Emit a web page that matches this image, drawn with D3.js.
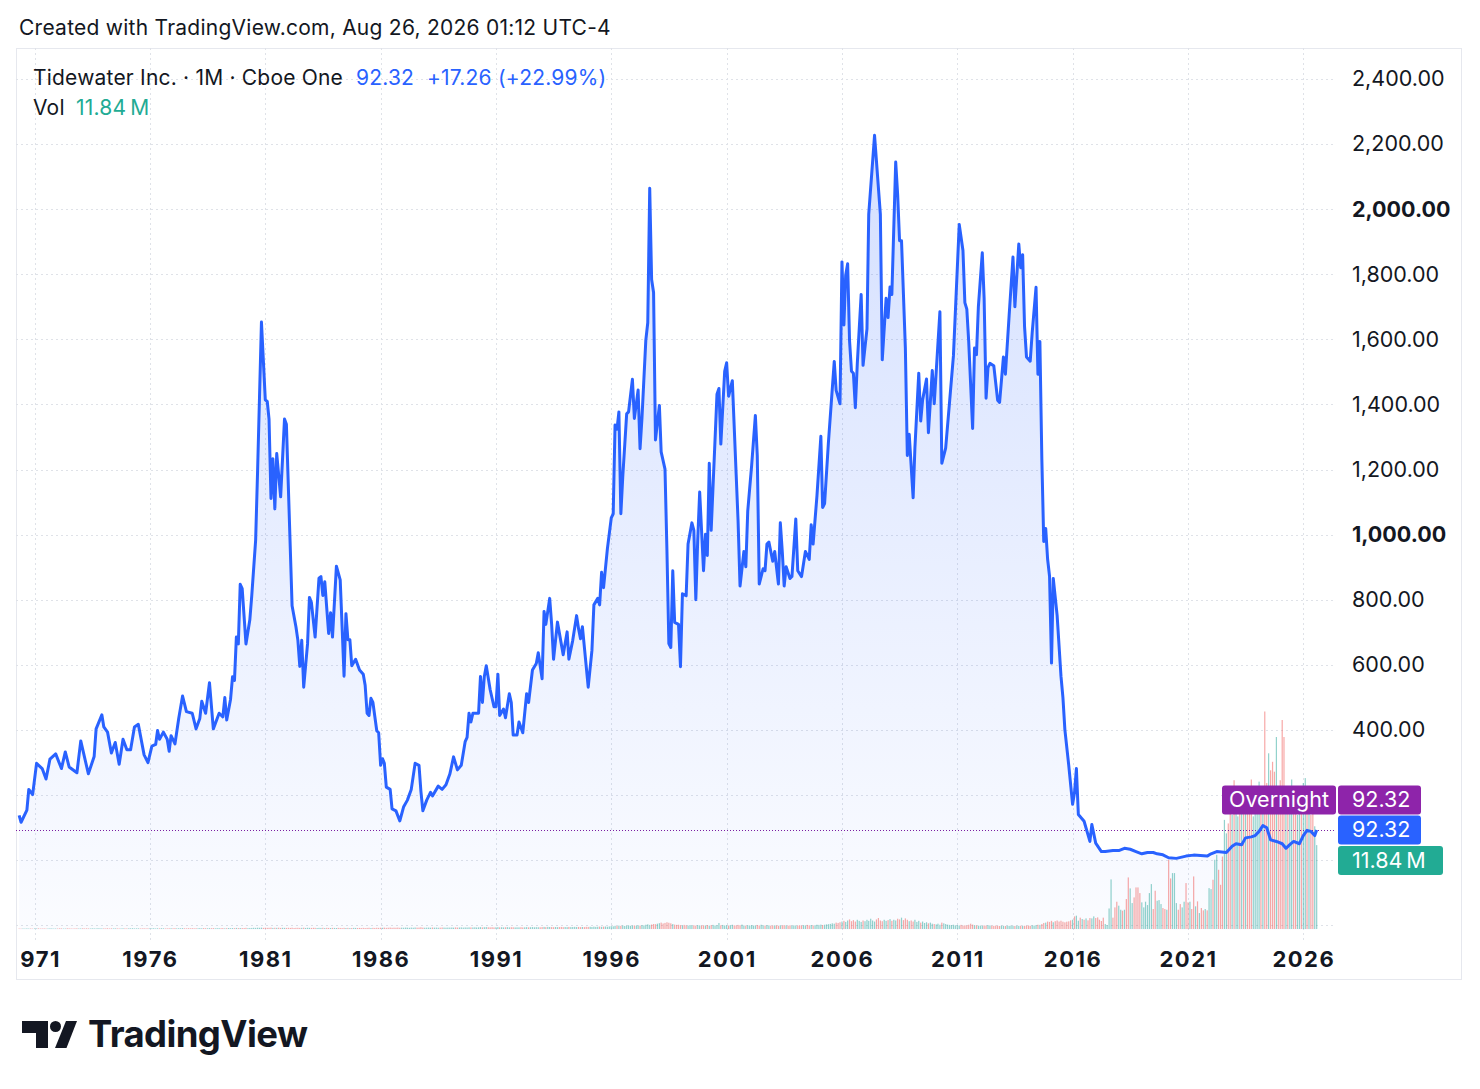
<!DOCTYPE html>
<html>
<head>
<meta charset="utf-8">
<script src="https://cdn.jsdelivr.net/npm/d3@7"></script>
<style>
  body { margin: 0; background: #fff; }
  svg text { font-family: Inter, "Noto Sans", sans-serif; }
</style>
</head>
<body>
<script>
// monthly closes at the turning points
const closes1970s = [
  ["1970-05",137],["1970-06",116],["1970-09",153],["1970-10",217],["1970-12",201],
  ["1971-02",297],["1971-05",281],["1971-07",249],["1971-09",310],["1971-12",326],
  ["1972-03",281],["1972-05",332],["1972-07",286],["1972-11",268],
  ["1973-01",366],["1973-05",265],["1973-08",318],["1973-09",403],["1973-12",446],
  ["1974-01",409],["1974-03",393],["1974-05",329],["1974-07",361],["1974-09",294],["1974-11",371],
  ["1975-01",339],["1975-03",339],["1975-05",409],["1975-07",417],["1975-10",323],["1975-12",299],
  ["1976-02",350],["1976-04",355],["1976-05",398],["1976-06",371],["1976-08",393],["1976-10",371],["1976-11",334],["1976-12",382],
  ["1977-02",357],["1977-04",435],["1977-06",504],["1977-08",456],["1977-11",451],
  ["1978-01",403],["1978-03",435],["1978-04",488],["1978-06",451],["1978-08",545],["1978-10",403],
  ["1979-01",451],["1979-03",440],["1979-04",499],["1979-05",430],["1979-07",494],["1979-08",563],["1979-09",552],["1979-10",685],["1979-11",664],["1979-12",847]
];
const closes1980s = [
  ["1980-01",834],["1980-03",664],["1980-05",738],["1980-06",813],["1980-08",983],["1980-09",1196],["1980-11",1653],
  ["1981-01",1414],["1981-02",1409],["1981-03",1355],["1981-04",1111],["1981-05",1233],["1981-06",1079],["1981-07",1249],["1981-09",1116],["1981-11",1355],["1981-12",1339],
  ["1982-03",781],["1982-05",717],["1982-06",675],["1982-07",595],["1982-08",675],["1982-09",531],["1982-11",664],["1982-12",807],
  ["1983-01",791],["1983-03",685],["1983-05",866],["1983-06",871],["1983-07",813],["1983-08",855],["1983-10",696],["1983-11",760],["1983-12",685],
  ["1984-02",903],["1984-04",861],["1984-05",717],["1984-06",565],["1984-07",757],["1984-08",677],["1984-09",677],["1984-10",597],["1984-12",617],
  ["1985-02",584],["1985-04",571],["1985-05",537],["1985-06",451],["1985-07",444],["1985-08",497],["1985-09",484],["1985-11",397],["1985-12",391],
  ["1986-01",291],["1986-02",311],["1986-03",297],["1986-04",224],["1986-06",217],["1986-07",157],["1986-09",151],["1986-11",120],
  ["1987-01",164],["1987-03",184],["1987-05",217],["1987-07",297],["1987-09",291],["1987-10",211],["1987-11",151],
  ["1988-01",184],["1988-03",208],["1988-04",197],["1988-07",227],["1988-09",217],["1988-11",231],
  ["1989-01",264],["1989-03",317],["1989-05",277],["1989-07",291],["1989-09",364],["1989-10",377],["1989-11",451],["1989-12",424]
];
const closes1990s = [
  ["1990-01",451],["1990-04",451],["1990-05",564],["1990-06",484],["1990-07",564],["1990-08",597],["1990-10",524],["1990-12",471],
  ["1991-01",471],["1991-02",571],["1991-03",444],["1991-05",464],["1991-06",437],["1991-08",511],["1991-09",484],["1991-10",384],["1991-12",384],
  ["1992-01",424],["1992-03",391],["1992-05",511],["1992-06",484],["1992-08",584],["1992-10",604],["1992-11",637],
  ["1993-01",557],["1993-02",764],["1993-03",724],["1993-05",804],["1993-06",724],["1993-07",617],["1993-09",731],["1993-12",631],
  ["1994-02",701],["1994-03",617],["1994-05",675],["1994-07",751],["1994-08",711],["1994-09",680],["1994-10",717],
  ["1995-01",531],["1995-03",644],["1995-04",784],["1995-06",804],["1995-07",784],["1995-08",884],["1995-09",837],["1995-11",957],
  ["1996-01",1051],["1996-02",1064],["1996-03",1337],["1996-04",1324],["1996-05",1377],["1996-06",1064],["1996-07",1177],["1996-09",1371],["1996-10",1377],["1996-12",1477],
  ["1997-01",1357],["1997-03",1444],["1997-04",1264],["1997-05",1357],["1997-07",1597],["1997-08",1651],["1997-09",2064],["1997-10",1784],["1997-11",1744],["1997-12",1291],
  ["1998-02",1397],["1998-03",1254],["1998-05",1201],["1998-06",948],["1998-07",665],["1998-08",653],["1998-09",889],["1998-10",730],["1998-12",724],
  ["1999-01",594],["1999-02",818],["1999-04",812],["1999-05",971],["1999-07",1036],["1999-08",1013],["1999-09",800],["1999-10",983],["1999-11",1131]
];
const closes2000s = [
  ["2000-01",889],["2000-02",1001],["2000-03",936],["2000-04",1219],["2000-05",1013],["2000-08",1431],["2000-09",1449],["2000-10",1278],["2000-12",1502],
  ["2001-01",1528],["2001-02",1425],["2001-04",1473],["2001-06",1184],["2001-07",1042],["2001-08",842],["2001-10",948],["2001-11",901],["2001-12",1072],
  ["2002-02",1213],["2002-04",1366],["2002-05",1243],["2002-06",848],["2002-08",895],["2002-09",889],["2002-10",971],["2002-11",977],
  ["2003-01",918],["2003-02",948],["2003-04",848],["2003-05",1036],["2003-06",948],["2003-07",842],["2003-08",901],["2003-10",865],["2003-11",871],
  ["2004-01",1048],["2004-02",889],["2004-04",871],["2004-06",948],["2004-08",924],["2004-09",1030],["2004-10",971],["2004-12",1119],
  ["2005-02",1302],["2005-03",1083],["2005-04",1095],["2005-06",1284],["2005-09",1532],["2005-10",1443],["2005-12",1402],
  ["2006-01",1838],["2006-02",1644],["2006-03",1797],["2006-04",1832],["2006-05",1596],["2006-06",1502],["2006-07",1496],["2006-08",1390],["2006-09",1526],["2006-11",1738],["2006-12",1520],
  ["2007-02",1632],["2007-03",1985],["2007-06",2227],["2007-09",1985],["2007-10",1537],["2007-12",1726],
  ["2008-01",1667],["2008-02",1761],["2008-03",1738],["2008-05",2145],["2008-06",2044],["2008-07",1903],["2008-08",1903],["2008-10",1573],["2008-11",1243],["2008-12",1308],
  ["2009-02",1113],["2009-03",1266],["2009-05",1496],["2009-06",1349],["2009-07",1414],["2009-09",1478],["2009-10",1313],["2009-12",1504]
];
const closes2010s = [
  ["2010-01",1402],["2010-04",1685],["2010-05",1219],["2010-07",1266],["2010-09",1408],["2010-11",1549],
  ["2011-02",1953],["2011-04",1873],["2011-05",1713],["2011-06",1693],["2011-07",1593],["2011-09",1326],["2011-10",1573],["2011-11",1553],["2011-12",1700],
  ["2012-02",1866],["2012-03",1726],["2012-04",1419],["2012-05",1513],["2012-06",1526],["2012-08",1519],["2012-10",1413],["2012-11",1406],
  ["2013-01",1546],["2013-02",1493],["2013-04",1673],["2013-06",1853],["2013-07",1700],["2013-09",1893],["2013-10",1820],["2013-11",1860],["2013-12",1640],
  ["2014-01",1546],["2014-03",1533],["2014-04",1620],["2014-06",1760],["2014-07",1493],["2014-08",1593],["2014-09",1232],["2014-10",979],["2014-11",1019],["2014-12",925],
  ["2015-01",872],["2015-02",605],["2015-03",865],["2015-05",752],["2015-07",565],["2015-08",499],["2015-09",400],["2015-11",291],
  ["2016-01",171],["2016-02",208],["2016-03",281],["2016-04",140],["2016-07",119],["2016-10",57],["2016-11",109],
  ["2017-01",52],["2017-04",26],["2017-06",26],["2017-10",29],["2018-01",29],["2018-04",36],["2018-07",33],["2018-10",26],
  ["2019-01",19],["2019-04",23],["2019-07",23],["2019-09",19],["2019-12",16]
];
const closes2020s = [
  ["2020-03",7],["2020-07",5],["2020-12",12],["2021-04",15],["2021-11",12],["2022-01",19],["2022-04",26],["2022-09",23],["2022-12",42],
  ["2023-02",50],["2023-05",47],["2023-07",68],["2023-10",71],["2023-12",75],["2024-02",88],["2024-04",106],["2024-06",99],["2024-08",62],["2024-11",57],
  ["2025-02",50],["2025-04",36],["2025-06",47],["2025-08",57],["2025-11",50],["2026-01",75],["2026-03",91],["2026-05",88],["2026-07",75.06],["2026-08",92.32]
];

// monthly volume in millions
const volume1970s = [ // from 1970-05
  0.06,0.05,0.07,0.06,0.08,0.06,0.07,0.05,
  0.08,0.07,0.09,0.06,0.07,0.08,0.06,0.07,0.09,0.08,0.06,0.07,
  0.07,0.09,0.08,0.06,0.07,0.10,0.08,0.07,0.06,0.08,0.09,0.07,
  0.08,0.10,0.07,0.09,0.08,0.07,0.10,0.09,0.08,0.11,0.09,0.08,
  0.09,0.08,0.10,0.07,0.09,0.08,0.10,0.09,0.07,0.08,0.10,0.09,
  0.08,0.10,0.09,0.11,0.08,0.09,0.10,0.08,0.09,0.10,0.08,0.09,
  0.10,0.09,0.11,0.08,0.10,0.09,0.11,0.10,0.08,0.09,0.10,0.11,
  0.10,0.12,0.09,0.11,0.10,0.12,0.10,0.09,0.11,0.10,0.12,0.10,
  0.11,0.10,0.12,0.10,0.13,0.11,0.10,0.12,0.11,0.13,0.10,0.12,
  0.12,0.11,0.13,0.10,0.12,0.14,0.11,0.13,0.12,0.15,0.13,0.14
];
const volume1980s = [
  0.14,0.13,0.16,0.12,0.14,0.15,0.17,0.16,0.18,0.17,0.19,0.16,
  0.18,0.16,0.17,0.19,0.15,0.17,0.16,0.18,0.15,0.17,0.16,0.15,
  0.17,0.15,0.18,0.14,0.16,0.17,0.15,0.16,0.18,0.15,0.17,0.16,
  0.15,0.17,0.16,0.14,0.16,0.15,0.17,0.14,0.16,0.15,0.14,0.16,
  0.15,0.14,0.16,0.15,0.13,0.16,0.14,0.15,0.13,0.14,0.16,0.15,
  0.14,0.15,0.13,0.16,0.14,0.15,0.17,0.14,0.16,0.15,0.17,0.16,
  0.18,0.17,0.19,0.16,0.18,0.20,0.17,0.19,0.18,0.20,0.17,0.19,
  0.18,0.20,0.19,0.17,0.20,0.18,0.21,0.19,0.20,0.24,0.19,0.18,
  0.19,0.20,0.18,0.21,0.19,0.20,0.18,0.19,0.21,0.20,0.19,0.20,
  0.20,0.21,0.19,0.22,0.20,0.21,0.23,0.20,0.22,0.21,0.23,0.22
];
const volume1990s = [
  0.22,0.24,0.21,0.23,0.26,0.22,0.25,0.27,0.24,0.23,0.25,0.22,
  0.24,0.26,0.23,0.25,0.22,0.24,0.26,0.23,0.25,0.24,0.22,0.23,
  0.23,0.25,0.22,0.24,0.26,0.23,0.25,0.27,0.24,0.26,0.25,0.24,
  0.27,0.29,0.26,0.30,0.28,0.27,0.25,0.28,0.26,0.27,0.29,0.26,
  0.28,0.26,0.29,0.27,0.28,0.30,0.27,0.29,0.26,0.28,0.27,0.30,
  0.29,0.31,0.28,0.33,0.30,0.32,0.34,0.31,0.33,0.35,0.32,0.36,
  0.40,0.38,0.45,0.42,0.48,0.44,0.50,0.43,0.47,0.52,0.45,0.49,
  0.50,0.46,0.53,0.48,0.55,0.51,0.60,0.66,0.58,0.63,0.70,0.68,
  0.75,0.82,0.90,0.78,0.86,0.95,0.88,0.80,0.70,0.62,0.58,0.60,
  0.55,0.50,0.58,0.52,0.48,0.56,0.50,0.53,0.47,0.55,0.51,0.49
];
const volume2000s = [
  0.52,0.50,0.56,0.48,0.54,0.58,0.50,0.55,0.85,0.52,0.57,0.50,
  0.53,0.49,0.55,0.60,0.52,0.50,0.58,0.54,0.62,0.50,0.48,0.53,
  0.50,0.55,0.48,0.52,0.57,0.50,0.60,0.53,0.49,0.55,0.51,0.47,
  0.48,0.52,0.50,0.46,0.53,0.49,0.55,0.50,0.47,0.52,0.48,0.51,
  0.50,0.47,0.53,0.49,0.55,0.51,0.58,0.52,0.56,0.50,0.54,0.60,
  0.58,0.62,0.55,0.60,0.65,0.68,0.72,0.80,0.75,0.90,0.85,0.95,
  1.05,1.15,1.00,1.20,1.35,1.10,1.25,1.05,1.30,1.15,1.00,1.20,
  1.10,1.30,1.15,1.45,1.20,1.05,1.35,1.55,1.20,1.10,1.30,1.15,
  1.25,1.40,1.15,1.30,1.20,1.45,1.35,1.60,1.25,1.50,1.30,1.10,
  1.20,1.05,1.30,1.00,1.15,0.90,1.05,0.85,0.95,0.80,0.90,0.75
];
const volume2010s = [ // 2010-01 to 2015-06
  0.70,0.65,0.75,0.60,0.90,0.80,0.70,0.62,0.58,0.55,0.60,0.52,
  0.55,0.50,0.58,0.48,0.52,0.50,0.60,0.75,0.62,0.55,0.50,0.47,
  0.48,0.45,0.50,0.47,0.55,0.50,0.46,0.44,0.48,0.45,0.43,0.47,
  0.45,0.42,0.46,0.44,0.48,0.45,0.43,0.47,0.44,0.46,0.42,0.45,
  0.47,0.50,0.45,0.52,0.48,0.55,0.60,0.58,0.70,0.85,0.90,1.05,
  1.00,1.15,0.95,1.10,1.20,1.05
];
const volumeRecent = [ // from 2015-07
  1.17,1.03,0.94,1.03,1.08,1.22,1.31,1.78,1.88,1.17,1.60,1.41,
  1.31,1.50,1.22,1.55,1.50,1.78,1.55,1.64,1.31,1.13,1.60,0.70,
  0.56,2.90,7.00,1.60,3.05,3.85,3.29,2.72,2.58,2.72,4.23,7.28,
  5.73,3.66,4.46,5.87,5.87,5.07,3.76,3.05,3.85,3.38,5.07,6.34,
  2.82,5.40,3.99,4.08,3.52,2.96,2.82,2.72,9.77,7.14,7.89,7.89,
  3.66,2.72,3.52,3.05,3.85,6.48,3.76,3.85,2.82,7.42,3.20,3.90,
  2.25,2.96,2.63,2.82,2.63,5.77,5.63,6.95,9.77,10.47,8.36,6.24,
  10.23,15.4,13.5,14.9,18.2,16.1,21.0,18.7,15.9,19.9,16.3,19.7,
  16.8,17.3,19.6,21.1,15.9,17.7,19.9,20.8,18.2,20.0,30.7,20.6,
  24.8,22.4,23.6,22.2,27.1,20.1,21.0,29.5,27.1,19.2,20.1,16.8,
  21.1,18.2,17.3,16.1,18.0,19.2,20.6,21.3,18.7,16.8,16.1,18.2,
  14.5,11.84
];
// u = up month (teal), d = down month (red)
const volumeRecentDir =
  "dddddduduudu dudduudddddu uuuddduududd uudddduuuuuu dduuuddudduu udduuddudd ud" +
  "udduduuduudd duudduduudud uddduuuududd uddduddddudu udduuduududd uu";

// labels under the last-price tags (0 and 200) are hidden, as on the original
const priceTicks = [400, 600, 800, 1000, 1200, 1400, 1600, 1800, 2000, 2200, 2400];
const gridTicks = [-200, 0, 200, 400, 600, 800, 1000, 1200, 1400, 1600, 1800, 2000, 2200, 2400];
const boldTicks = [1000, 2000];
const yearTicks = [1971, 1976, 1981, 1986, 1991, 1996, 2001, 2006, 2011, 2016, 2021, 2026];

const headerText = "Created with TradingView.com, Aug 26, 2026 01:12 UTC-4";
const symbolText = "Tidewater Inc. · 1M · Cboe One";
const sessionLabel = "Overnight";

const parseMonth = d3.utcParse("%Y-%m");
const closes = [].concat(closes1970s, closes1980s, closes1990s, closes2000s, closes2010s, closes2020s)
  .map(d => ({date: parseMonth(d[0]), v: d[1]}));

function monthly(start, values) {
  const s = parseMonth(start);
  return values.map((v, i) => ({date: d3.utcMonth.offset(s, i), v: v}));
}

// direction for older months: sign of the close segment the month sits in
const bisect = d3.bisector(d => d.date).left;
function segmentUp(date) {
  let i = bisect(closes, date);
  if (i <= 0) i = 1;
  if (i >= closes.length) i = closes.length - 1;
  return closes[i].v >= closes[i - 1].v;
}
const recentDir = volumeRecentDir.replace(/\s/g, "");
const volumeOld = [].concat(
  monthly("1970-05", volume1970s), monthly("1980-01", volume1980s), monthly("1990-01", volume1990s),
  monthly("2000-01", volume2000s), monthly("2010-01", volume2010s)
).map(d => ({date: d.date, v: d.v, up: segmentUp(d.date)}));
const volumeNew = monthly("2015-07", volumeRecent).map((d, i) => ({date: d.date, v: d.v, up: recentDir[i] === "u"}));
const volume = volumeOld.concat(volumeNew);

const last = closes[closes.length - 1].v;
const prev = closes[closes.length - 2].v;
const lastVol = volumeRecent[volumeRecent.length - 1];

// ---- layout
const W = 1480, H = 1089;
const pane = {left: 16, top: 48, right: 1462, bottom: 980};
const plotRight = 1336;
const areaBase = 930;

const svg = d3.select("body").append("svg")
  .attr("width", W)
  .attr("height", H)
  .style("display", "block");

const x = d3.scaleUtc()
  .domain([new Date(Date.UTC(1971, 0, 1)), new Date(Date.UTC(2026, 0, 1))])
  .range([34.6, 1303.3]);
const y = d3.scaleLinear().domain([0, 2400]).range([860, 79]);
const yVol = d3.scaleLinear().domain([0, 30.7]).range([929, 711.5]);

const defs = svg.append("defs");
defs.append("clipPath").attr("id", "plotClip")
  .append("rect").attr("x", pane.left).attr("y", pane.top)
  .attr("width", plotRight - pane.left).attr("height", 940 - pane.top);
defs.append("clipPath").attr("id", "timeClip")
  .append("rect").attr("x", 21).attr("y", 930)
  .attr("width", plotRight - 21).attr("height", 50);
const grad = defs.append("linearGradient").attr("id", "areaGrad")
  .attr("gradientUnits", "userSpaceOnUse")
  .attr("x1", 0).attr("y1", y(2227)).attr("x2", 0).attr("y2", areaBase);
grad.append("stop").attr("offset", 0).attr("stop-color", "#2962ff").attr("stop-opacity", 0.2);
grad.append("stop").attr("offset", 1).attr("stop-color", "#2962ff").attr("stop-opacity", 0.02);

// header
svg.append("text")
  .attr("x", 19).attr("y", 35)
  .style("font-size", "21px").style("letter-spacing", "0.25px").attr("fill", "#131722")
  .text(headerText);

// pane border
svg.append("rect")
  .attr("x", pane.left + 0.5).attr("y", pane.top + 0.5)
  .attr("width", pane.right - pane.left - 1).attr("height", pane.bottom - pane.top - 1)
  .attr("fill", "none").attr("stroke", "#e6e8ee");

// grid
const grid = svg.append("g").attr("clip-path", "url(#plotClip)")
  .attr("stroke", "#dfe2e8").attr("stroke-dasharray", "2,3").attr("stroke-width", 1);
grid.selectAll("line.h")
  .data(gridTicks)
  .enter().append("line")
  .attr("x1", pane.left).attr("x2", plotRight)
  .attr("y1", d => Math.round(y(d)) + 0.5).attr("y2", d => Math.round(y(d)) + 0.5);
grid.selectAll("line.v")
  .data(yearTicks)
  .enter().append("line")
  .attr("y1", pane.top).attr("y2", 940)
  .attr("x1", d => Math.round(x(new Date(Date.UTC(d, 0, 1)))) + 0.5)
  .attr("x2", d => Math.round(x(new Date(Date.UTC(d, 0, 1)))) + 0.5);

const plot = svg.append("g").attr("clip-path", "url(#plotClip)");

// area under the close line
plot.append("path")
  .datum(closes)
  .attr("fill", "url(#areaGrad)")
  .attr("d", d3.area().x(d => x(d.date)).y0(areaBase).y1(d => y(d.v)));

// volume
plot.selectAll("rect.vol")
  .data(volume)
  .enter().append("rect")
  .attr("x", d => x(d.date) - 0.6)
  .attr("width", 1.2)
  .attr("y", d => yVol(d.v))
  .attr("height", d => yVol(0) - yVol(d.v))
  .attr("fill", d => d.up ? "#26a69a" : "#ef5350")
  .attr("fill-opacity", 0.5);

// last price dotted line
plot.append("line")
  .attr("x1", pane.left).attr("x2", plotRight)
  .attr("y1", Math.round(y(last)) + 0.5).attr("y2", Math.round(y(last)) + 0.5)
  .attr("stroke", "#7b1fa2").attr("stroke-dasharray", "1,2").attr("stroke-width", 1);

// close line
plot.append("path")
  .datum(closes)
  .attr("fill", "none")
  .attr("stroke", "#2962ff")
  .attr("stroke-width", 3)
  .attr("stroke-linejoin", "round")
  .attr("d", d3.line().x(d => x(d.date)).y(d => y(d.v)));

// price scale
const yAxis = d3.axisRight(y)
  .tickValues(priceTicks)
  .tickSize(0)
  .tickPadding(0)
  .tickFormat(d3.format(",.2f"));
const yAxisG = svg.append("g")
  .attr("transform", "translate(1352,0)")
  .call(yAxis);
yAxisG.select(".domain").remove();
yAxisG.selectAll("text")
  .style("font-size", "21.5px")
  .style("font-family", "Inter, sans-serif")
  .attr("fill", "#131722")
  .style("font-weight", d => boldTicks.includes(d) ? 700 : 400);

// time scale
const xAxis = d3.axisBottom(x)
  .tickValues(yearTicks.map(d => new Date(Date.UTC(d, 0, 1))))
  .tickSize(0)
  .tickPadding(0)
  .tickFormat(d3.utcFormat("%Y"));
const xAxisG = svg.append("g")
  .attr("clip-path", "url(#timeClip)")
  .append("g")
  .attr("transform", "translate(0,951)")
  .call(xAxis);
xAxisG.select(".domain").remove();
xAxisG.selectAll("text")
  .style("font-size", "22px")
  .style("font-family", "Inter, sans-serif")
  .style("font-weight", 700)
  .style("letter-spacing", "1.5px")
  .attr("fill", "#131722");

// legend
const legend = svg.append("g").style("font-size", "21px").style("letter-spacing", "0.2px");
legend.append("text").attr("x", 33).attr("y", 85).attr("fill", "#131722").text(symbolText);
legend.append("text").attr("x", 356).attr("y", 85).attr("fill", "#2962ff").text(d3.format(".2f")(last));
legend.append("text").attr("x", 427).attr("y", 85).attr("fill", "#2962ff")
  .text(d3.format("+.2f")(last - prev) + " (" + d3.format("+.2%")((last - prev) / prev) + ")");
legend.append("text").attr("x", 33).attr("y", 115).attr("fill", "#131722").text("Vol");
legend.append("text").attr("x", 76).attr("y", 115).attr("fill", "#22ab94")
  .text(d3.format(".2f")(lastVol) + "\u2009M");

// right-side value labels
function valueLabel(x0, w, cy, fill, label) {
  const g = svg.append("g");
  g.append("rect").attr("x", x0).attr("y", cy - 14.5).attr("width", w).attr("height", 29)
    .attr("rx", 3).attr("fill", fill);
  g.append("text").attr("x", x0 + 14).attr("y", cy + 7.5)
    .style("font-size", "21.5px").attr("fill", "#fff").text(label);
  return g;
}
const cyLast = y(last);
valueLabel(1222, 114, cyLast - 30, "#8e24aa", sessionLabel).select("text").attr("x", 1229);
valueLabel(1338, 83, cyLast - 30, "#8e24aa", d3.format(".2f")(last));
svg.append("line").attr("x1", 1337).attr("x2", 1337)
  .attr("y1", cyLast - 44.5).attr("y2", cyLast - 15.5).attr("stroke", "#fff").attr("stroke-width", 2);
valueLabel(1338, 83, cyLast, "#2962ff", d3.format(".2f")(last));
valueLabel(1338, 105, cyLast + 30.5, "#22ab94", d3.format(".2f")(lastVol) + "\u2009M");

// TradingView mark
const logo = svg.append("g").attr("fill", "#131722");
logo.append("path").attr("d", "M22,1021 H48 V1048 H36 V1033 H22 Z");
logo.append("circle").attr("cx", 55.5).attr("cy", 1026.5).attr("r", 5.5);
logo.append("path").attr("d", "M66,1021 H77 L66.5,1048 H55 Z");
logo.append("text").attr("x", 88).attr("y", 1047)
  .style("font-size", "36.5px").style("font-weight", 700).style("letter-spacing", "-0.6px")
  .text("TradingView");
</script>
</body>
</html>
